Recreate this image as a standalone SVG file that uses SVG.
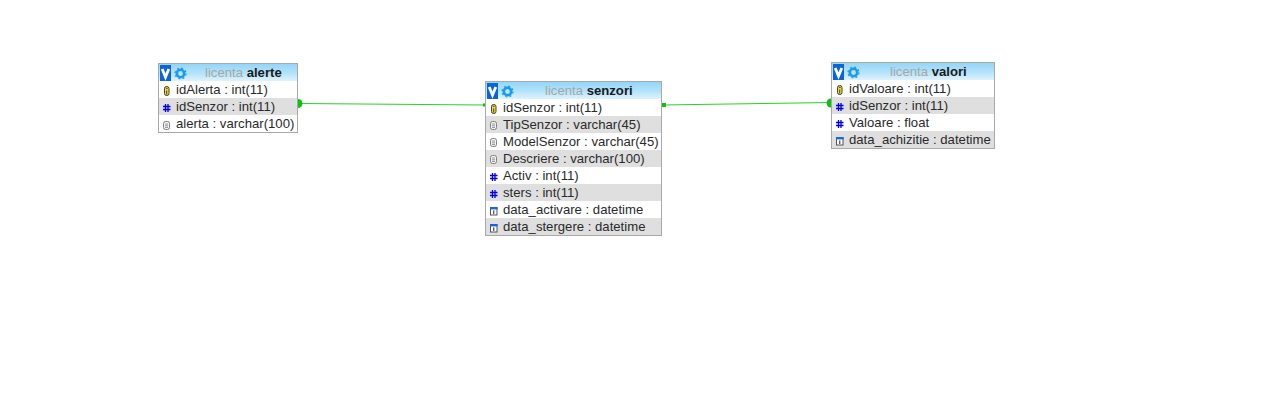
<svg xmlns="http://www.w3.org/2000/svg" width="1268" height="402" viewBox="0 0 1268 402">
<style>
text{font-family:"Liberation Sans",Arial,sans-serif;font-size:13.15px;fill:#2a2a2a}
.box{fill:#fff;stroke:#a9a9a9;stroke-width:1}
.alt{fill:#dfdfdf}
.head{fill:url(#hg)}
.db{fill:#a6a6a6}
.tn{font-weight:bold;fill:#1a1a1a}
.ln{fill:none;stroke:#2ad02a;stroke-width:1}
.dot{fill:#0fc00f}
</style>
<defs>
<linearGradient id="hg" x1="0" y1="0" x2="0" y2="1"><stop offset="0" stop-color="#93d6f8"/><stop offset="0.55" stop-color="#b5e3fa"/><stop offset="1" stop-color="#def3fd"/></linearGradient>
<g id="v"><rect width="11" height="16" fill="#0a66d8"/><path d="M2.200 4 L5.500 12 L8.800 4" fill="none" stroke="#fff" stroke-width="2.800"/></g>
<g id="gear"><circle cx="6.500" cy="6.500" r="3.700" fill="none" stroke="#1e9be8" stroke-width="2.600"/><circle cx="6.500" cy="6.500" r="5.500" fill="none" stroke="#1e9be8" stroke-width="1.200" stroke-dasharray="2 2.320"/></g>
<g id="key"><rect x="1.500" y="0.500" width="4.500" height="9" rx="2" fill="#efd64a" stroke="#4a4420" stroke-width="1"/><path d="M2.800 2.300 H4.700 M3.700 4.500 V8.500" stroke="#4a4420" stroke-width="1"/></g>
<g id="num"><path d="M2.500 0 V8 M5 0 V8 M0 2.500 H7.500 M0 5.500 H7.500" fill="none" stroke="#0000e0" stroke-width="1.300"/></g>
<g id="str"><rect x="0.500" y="0.500" width="6" height="8" rx="2" fill="#f2f2f2" stroke="#808080"/><path d="M2 3 H5 M2 4.800 H5 M2 6.500 H5" stroke="#808080" stroke-width="0.800"/></g>
<g id="date"><rect x="0.500" y="0.500" width="6.500" height="7.500" fill="#fff" stroke="#555"/><rect x="0" y="0" width="7.500" height="2.400" fill="#1a66d6"/><path d="M3.800 3.400 V7" stroke="#222" stroke-width="1"/></g>
</defs>
<g id="connectors">
<path class="ln" d="M300 103.500 L485 105"/>
<path class="ln" d="M662 105 L831 102.500"/>
<path class="dot" d="M298 99 A4.500 4.500 0 0 1 298 108 Z"/>
<rect class="dot" x="662" y="103" width="4" height="4"/>
<path class="dot" d="M831 98.500 A4.500 4.500 0 0 0 831 107.500 Z"/>
<rect class="dot" x="483" y="103.500" width="2" height="3"/>
</g>
<g id="alerte">
<rect class="box" x="158.500" y="63.500" width="139" height="69"/>
<rect class="head" x="159" y="64" width="138" height="17"/>
<use href="#v" x="160" y="65"/><use href="#gear" x="174" y="67"/>
<text x="205" y="77"><tspan class="db">licenta </tspan><tspan class="tn">alerte</tspan></text>
<rect class="alt" x="159" y="98" width="138" height="17"/>
<use href="#key" x="163" y="86"/><text x="176" y="94">idAlerta : int(11)</text>
<use href="#num" x="163" y="104"/><text x="176" y="111">idSenzor : int(11)</text>
<use href="#str" x="163" y="121"/><text x="176" y="128">alerta : varchar(100)</text>
</g>
<g id="senzori">
<rect class="box" x="485.500" y="81.500" width="176" height="154"/>
<rect class="head" x="486" y="82" width="175" height="17"/>
<use href="#v" x="487" y="83"/><use href="#gear" x="501" y="85"/>
<text x="545" y="95"><tspan class="db">licenta </tspan><tspan class="tn">senzori</tspan></text>
<rect class="alt" x="486" y="116" width="175" height="17"/>
<rect class="alt" x="486" y="150" width="175" height="17"/>
<rect class="alt" x="486" y="184" width="175" height="17"/>
<rect class="alt" x="486" y="218" width="175" height="17"/>
<use href="#key" x="490" y="104"/><text x="503" y="112">idSenzor : int(11)</text>
<use href="#str" x="490" y="121"/><text x="503" y="129">TipSenzor : varchar(45)</text>
<use href="#str" x="490" y="138"/><text x="503" y="146">ModelSenzor : varchar(45)</text>
<use href="#str" x="490" y="155"/><text x="503" y="163">Descriere : varchar(100)</text>
<use href="#num" x="490" y="173"/><text x="503" y="180">Activ : int(11)</text>
<use href="#num" x="490" y="190"/><text x="503" y="197">sters : int(11)</text>
<use href="#date" x="490" y="207"/><text x="503" y="214">data_activare : datetime</text>
<use href="#date" x="490" y="224"/><text x="503" y="231">data_stergere : datetime</text>
</g>
<g id="valori">
<rect class="box" x="831.500" y="62.500" width="163" height="86"/>
<rect class="head" x="832" y="63" width="162" height="17"/>
<use href="#v" x="833" y="64"/><use href="#gear" x="847" y="66"/>
<text x="890" y="76"><tspan class="db">licenta </tspan><tspan class="tn">valori</tspan></text>
<rect class="alt" x="832" y="97" width="162" height="17"/>
<rect class="alt" x="832" y="131" width="162" height="17"/>
<use href="#key" x="836" y="85"/><text x="849" y="93">idValoare : int(11)</text>
<use href="#num" x="836" y="103"/><text x="849" y="110">idSenzor : int(11)</text>
<use href="#num" x="836" y="120"/><text x="849" y="127">Valoare : float</text>
<use href="#date" x="836" y="137"/><text x="849" y="144">data_achizitie : datetime</text>
</g>
</svg>
